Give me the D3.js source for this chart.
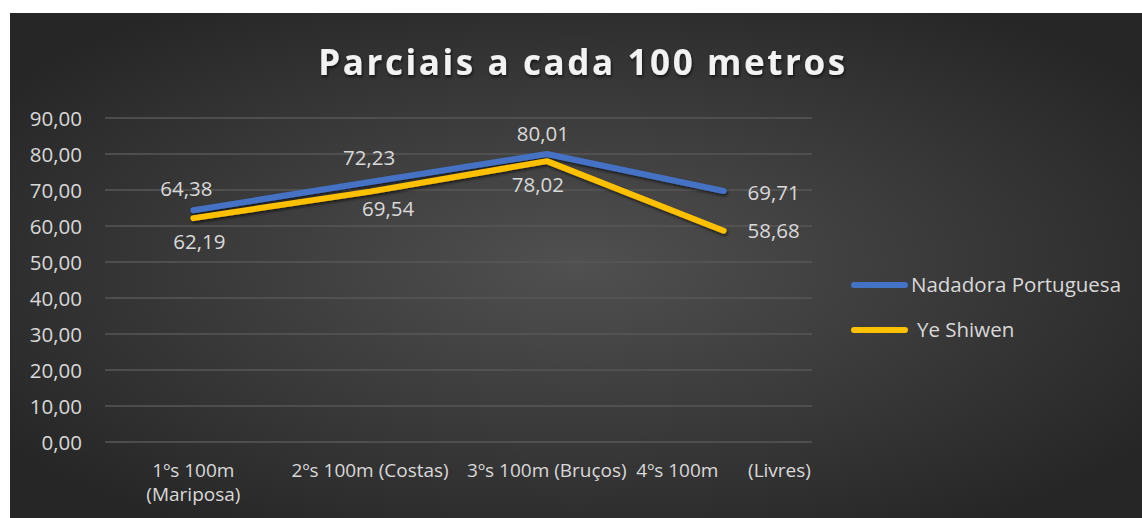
<!DOCTYPE html>
<meta charset="utf-8">
<style>
body { margin: 0; background: #fff; }
text { font-family: "Open Sans", sans-serif; fill: #d9d9d9; }
.grid line { stroke: #575757; stroke-width: 1.3px; }
.title { font-weight: bold; font-size: 35px; letter-spacing: 2.6px; fill: #f2f2f2; }
.tick text, .lbl { font-size: 20.5px; }
.cat { font-size: 19px; }
.leg text { font-size: 20.5px; }
</style>
<svg width="1142" height="518"></svg>
<script src="https://cdn.jsdelivr.net/npm/d3@7"></script>
<script>

var categories = [["1ºs 100m", "(Mariposa)"], ["2ºs 100m (Costas)"], ["3ºs 100m (Bruços)"], ["4ºs 100m      (Livres)"]];
var seriesNames = ["Nadadora Portuguesa", "Ye Shiwen"];
var portuguesa = [64.38, 72.23, 80.01, 69.71];
var yeShiwen = [62.19, 69.54, 78.02, 58.68];
var yTicks = [0, 10, 20, 30, 40, 50, 60, 70, 80, 90];
var colors = ["#4472c4", "#ffc000"];

// label centre offsets (dx, dy) from each point, per series
var labelOffsets = [
  [[-7, -22], [-1, -24], [-4, -20], [50, 2]],
  [[6, 24], [18, 17], [-9, 23], [50, 0]]
];

var svg = d3.select("svg");

var defs = svg.append("defs");
var grad = defs.append("radialGradient").attr("id", "bg")
    .attr("cx", "50%").attr("cy", "50%").attr("r", "62%");
grad.append("stop").attr("offset", "0%").attr("stop-color", "#505050");
grad.append("stop").attr("offset", "100%").attr("stop-color", "#262626");

var shadow = defs.append("filter").attr("id", "sh").attr("x", "-10%").attr("y", "-30%").attr("width", "120%").attr("height", "160%");
shadow.append("feDropShadow").attr("dx", 1).attr("dy", 2).attr("stdDeviation", 1.5)
    .attr("flood-color", "#000").attr("flood-opacity", 0.6);

svg.append("rect").attr("x", 10).attr("y", 13).attr("width", 1132).attr("height", 505)
    .attr("fill", "url(#bg)");

var x = d3.scaleBand().domain(d3.range(categories.length)).range([105, 812]);
var y = d3.scaleLinear().domain([0, 90]).range([442, 118]);

svg.append("text").attr("class", "title")
    .attr("x", 583).attr("y", 75).attr("text-anchor", "middle")
    .attr("filter", "url(#sh)")
    .text("Parciais a cada 100 metros");

// gridlines
svg.append("g").attr("class", "grid")
  .selectAll("line").data(yTicks).enter().append("line")
    .attr("x1", 105).attr("x2", 812)
    .attr("y1", function(d) { return y(d); })
    .attr("y2", function(d) { return y(d); });

// y axis labels
var fmt = function(d) { return d3.format(".2f")(d).replace(".", ","); };
var yAxis = svg.append("g").attr("transform", "translate(88,0)")
    .call(d3.axisLeft(y).tickValues(yTicks).tickFormat(fmt).tickSize(0).tickPadding(6));
yAxis.select(".domain").remove();
yAxis.selectAll("text").attr("fill", "#d9d9d9").attr("font-family", null).attr("font-size", null)
    .attr("dy", "0.36em");

// category labels
var cat = svg.append("g").selectAll("text").data(categories).enter().append("text")
    .attr("class", "cat").attr("text-anchor", "middle")
    .attr("xml:space", "preserve").style("white-space", "pre")
    .attr("x", function(d, i) { return x(i) + x.bandwidth() / 2; })
    .attr("y", 477);
cat.selectAll("tspan").data(function(d) { return d; }).enter().append("tspan")
    .attr("x", function() { return d3.select(this.parentNode).attr("x"); })
    .attr("dy", function(d, i) { return i ? 24 : 0; })
    .text(function(d) { return d; });

var line = d3.line()
    .x(function(d, i) { return x(i) + x.bandwidth() / 2; })
    .y(function(d) { return y(d); });

var series = [portuguesa, yeShiwen];

series.forEach(function(s, k) {
  svg.append("path").datum(s)
    .attr("d", line)
    .attr("fill", "none")
    .attr("stroke", colors[k])
    .attr("stroke-width", 6)
    .attr("stroke-linejoin", "round")
    .attr("stroke-linecap", "round")
    .attr("filter", "url(#sh)");
});

series.forEach(function(s, k) {
  svg.append("g").selectAll("text").data(s).enter().append("text")
    .attr("class", "lbl").attr("text-anchor", "middle")
    .attr("x", function(d, i) { return x(i) + x.bandwidth() / 2 + labelOffsets[k][i][0]; })
    .attr("y", function(d, i) { return y(d) + labelOffsets[k][i][1]; })
    .attr("dy", "0.36em")
    .text(function(d) { return fmt(d); });
});

// legend
var leg = svg.append("g").attr("class", "leg");
seriesNames.forEach(function(n, k) {
  var ly = 285 + k * 45;
  leg.append("line").attr("x1", 854).attr("x2", 905).attr("y1", ly).attr("y2", ly)
    .attr("stroke", colors[k]).attr("stroke-width", 6).attr("stroke-linecap", "round");
  leg.append("text").attr("x", k ? 917 : 911).attr("y", ly).attr("dy", "0.36em").text(n);
});

</script>
